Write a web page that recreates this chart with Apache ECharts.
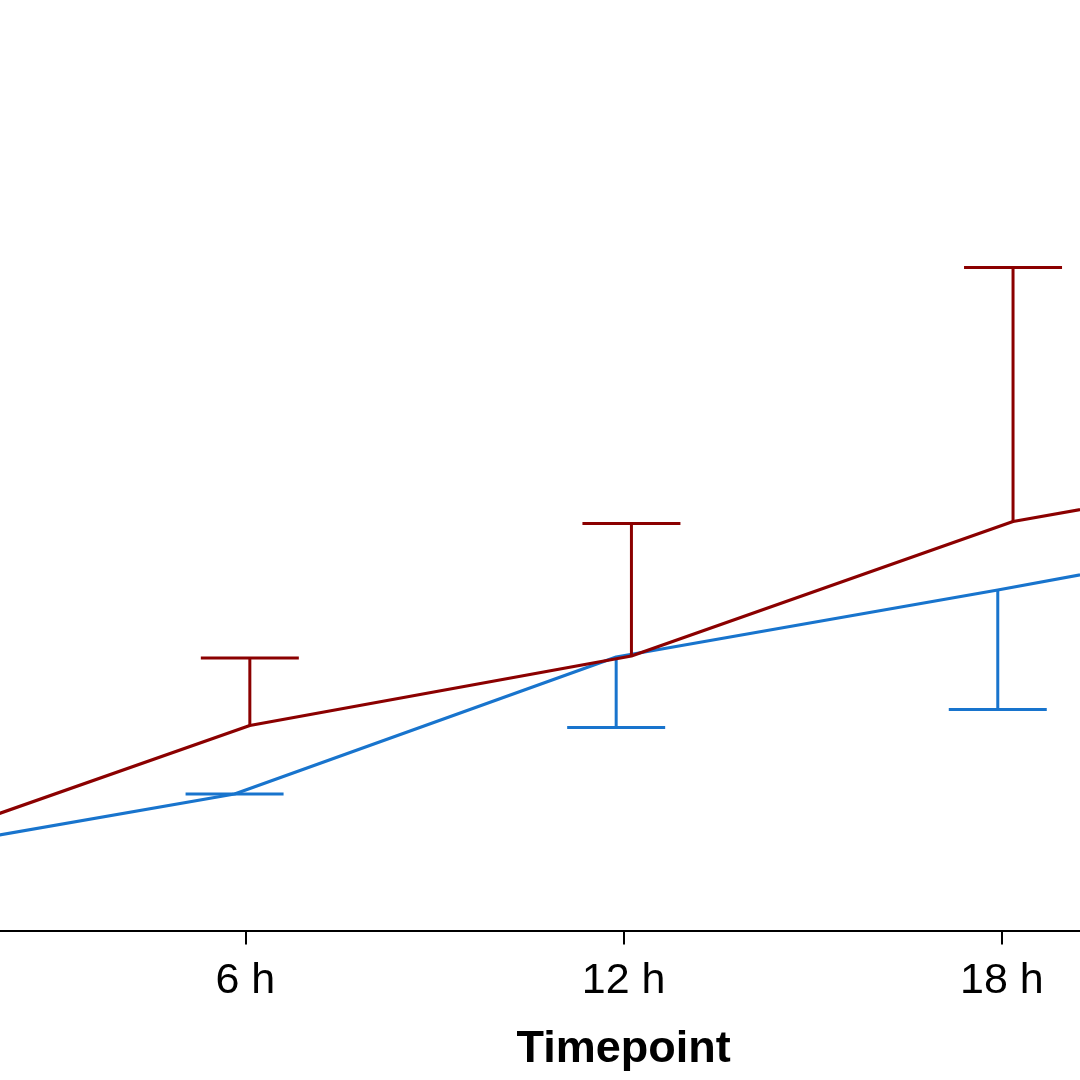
<!DOCTYPE html>
<html>
<head>
<meta charset="utf-8">
<script src="https://cdn.jsdelivr.net/npm/echarts@6/dist/echarts.min.js"></script>
<style>
html,body{margin:0;padding:0;background:#fff;}
#chart{width:1080px;height:1080px;}
</style>
</head>
<body>
<div id="chart"></div>
<script>
// ---- data ----
const timepoints = [0, 6, 12, 18, 24];
const tickLabelSuffix = ' h';
const xAxisName = 'Timepoint';
const redMean  = [7.1, 20.5, 27.45, 40.9, 47.6];
const redErr   = [1.0, 6.75, 13.25, 25.4, 30.0];   // drawn upward
const blueMean = [7.0, 13.65, 27.35, 34.05, 41.05];
const blueErr  = [1.0, 0.0, 7.05, 11.95, 14.0];    // drawn downward

// ---- styles / layout ----
const RED = '#8B0000';
const BLUE = '#1874CD';
const DODGE = 0.12;       // hours
const CAP_HALF = 49;      // px
const FONT = 'Liberation Sans, Arial, Helvetica, sans-serif';

const redData  = timepoints.map((t, i) => [t + DODGE, redMean[i], redErr[i]]);
const blueData = timepoints.map((t, i) => [t - DODGE, blueMean[i], blueErr[i]]);

function errRender(dir, color) {
  return function (params, api) {
    const x = api.value(0), m = api.value(1), e = api.value(2);
    const p0 = api.coord([x, m]);
    const p1 = api.coord([x, m + dir * e]);
    const st = { stroke: color, lineWidth: 3 };
    return {
      type: 'group',
      children: [
        { type: 'line', shape: { x1: p0[0], y1: p0[1], x2: p1[0], y2: p1[1] }, style: st },
        { type: 'line', shape: { x1: p1[0] - CAP_HALF, y1: p1[1], x2: p1[0] + CAP_HALF, y2: p1[1] }, style: st }
      ]
    };
  };
}

const chart = echarts.init(document.getElementById('chart'), null, { renderer: 'canvas' });
chart.setOption({
  animation: false,
  backgroundColor: '#ffffff',
  grid: {
    left: -133, width: 1513.2, top: -69.5, height: 1000,
    containLabel: false, outerBoundsMode: 'none'
  },
  xAxis: [
    {
      type: 'value', min: 0, max: 24, interval: 6,
      axisLine: { show: true, onZero: false, lineStyle: { color: '#000', width: 2 } },
      axisTick: { show: true, length: 14, lineStyle: { color: '#000', width: 2 } },
      axisLabel: {
        show: true, margin: 29, color: '#000', fontSize: 43, fontFamily: FONT,
        formatter: v => v + tickLabelSuffix
      },
      splitLine: { show: false },
      name: xAxisName, nameLocation: 'middle', nameGap: 97,
      nameTextStyle: { color: '#000', fontSize: 45, fontWeight: 'bold', fontFamily: FONT }
    },
    {
      type: 'value', position: 'top', show: false,
      min: 0.1006, max: 23.893
    }
  ],
  yAxis: {
    type: 'value', min: 0, max: 100, show: false, splitLine: { show: false }
  },
  series: [
    {
      type: 'custom', name: 'blueErr', xAxisIndex: 1, yAxisIndex: 0,
      renderItem: errRender(-1, BLUE), data: blueData, encode: { x: 0, y: 1 }, z: 1
    },
    {
      type: 'line', name: 'blue', xAxisIndex: 1, yAxisIndex: 0,
      data: blueData.map(d => [d[0], d[1]]), showSymbol: false, symbol: 'none',
      lineStyle: { color: BLUE, width: 3.2, join: 'round' }, itemStyle: { color: BLUE }, z: 2, clip: true
    },
    {
      type: 'custom', name: 'redErr', xAxisIndex: 1, yAxisIndex: 0,
      renderItem: errRender(1, RED), data: redData, encode: { x: 0, y: 1 }, z: 3
    },
    {
      type: 'line', name: 'red', xAxisIndex: 1, yAxisIndex: 0,
      data: redData.map(d => [d[0], d[1]]), showSymbol: false, symbol: 'none',
      lineStyle: { color: RED, width: 3.2 }, itemStyle: { color: RED }, z: 4, clip: true
    }
  ]
});
</script>
</body>
</html>
